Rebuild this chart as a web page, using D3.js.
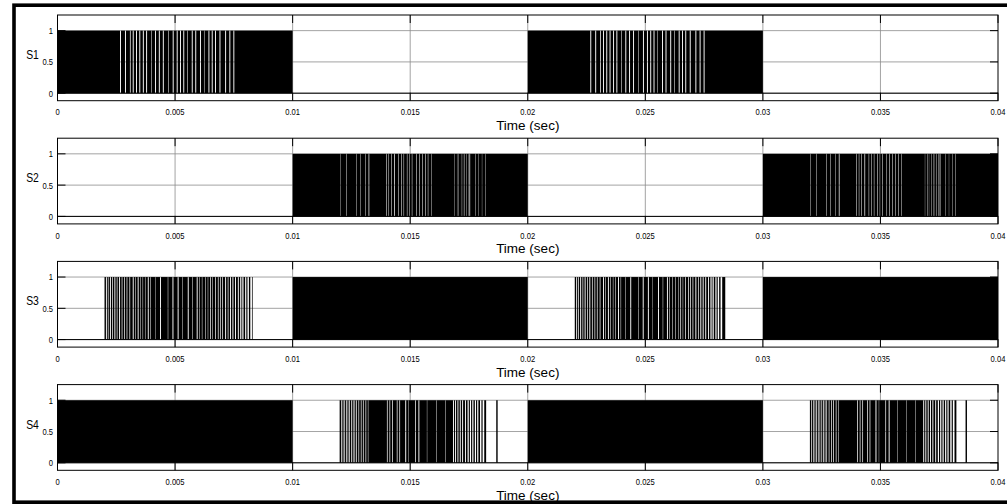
<!DOCTYPE html>
<html>
<head>
<meta charset="utf-8">
<script src="https://cdn.jsdelivr.net/npm/d3@7"></script>
<style>
  body { margin: 0; background: #fff; }
  text { font-family: "Liberation Sans", Arial, sans-serif; fill: #000; }
</style>
</head>
<body>
<div id="chart"></div>
<script>
// switching signals of a 4-switch inverter, 0..0.04 s

var xTicks = [0, 0.005, 0.01, 0.015, 0.02, 0.025, 0.03, 0.035, 0.04];
var xTickLabels = ["0", "0.005", "0.01", "0.015", "0.02", "0.025", "0.03", "0.035", "0.04"];
var yTicks = [0, 0.5, 1];
var yTickLabels = ["0", "0.5", "1"];
var names = ["S1", "S2", "S3", "S4"];

// intervals where the switch is held on (value 1)
var s1Solid = [];
var s2Solid = [];
var s3Solid = [[0.01, 0.02], [0.03, 0.04]];
var s4Solid = [[0, 0.01], [0.02, 0.03], [0.01866, 0.01872], [0.03862, 0.03868]];

// intervals that are switching (PWM); off-gaps listed below
var s1Pwm = [[0, 0.01], [0.02, 0.03]];
var s2Pwm = [[0.01, 0.02], [0.03, 0.04]];
var s3Pwm = [[0.002, 0.0083], [0.022, 0.0284]];
var s4Pwm = [[0.012, 0.01823], [0.032, 0.03823]];

// off gaps inside each PWM interval: [offset from interval start, duration] (s)
var s1Gaps = [[0.00266, 0.00004], [0.00287, 0.00004], [0.00308, 0.00003], [0.00320, 0.00004],
    [0.00334, 0.00004], [0.00348, 0.00004], [0.00363, 0.00004], [0.00377, 0.00004],
    [0.00398, 0.00002], [0.00415, 0.00004], [0.00431, 0.00004], [0.00448, 0.00004],
    [0.00471, 0.00002], [0.00490, 0.00004], [0.00507, 0.00004], [0.00521, 0.00004],
    [0.00535, 0.00004], [0.00552, 0.00002], [0.00571, 0.00004], [0.00586, 0.00004],
    [0.00606, 0.00004], [0.00623, 0.00002], [0.00642, 0.00004], [0.00656, 0.00004],
    [0.00670, 0.00004], [0.00689, 0.00004], [0.00713, 0.00004], [0.00731, 0.00004],
    [0.00748, 0.00004]];
var s2Gaps = [[0.00202, 0.000012], [0.00228, 0.000015], [0.00270, 0.000015], [0.00287, 0.000015],
    [0.00309, 0.000015], [0.00323, 0.00003], [0.00398, 0.00002], [0.00408, 0.00002],
    [0.00419, 0.00002], [0.00432, 0.00003], [0.00450, 0.00002], [0.00462, 0.00002],
    [0.00472, 0.00002], [0.00486, 0.00002], [0.00497, 0.00002], [0.00507, 0.00002],
    [0.00526, 0.00002], [0.00538, 0.00002], [0.00551, 0.00002], [0.00564, 0.00002],
    [0.00575, 0.00002], [0.00589, 0.000015], [0.00689, 0.000012], [0.00699, 0.000012],
    [0.00706, 0.000012], [0.00716, 0.000012], [0.00724, 0.000012], [0.00731, 0.000012],
    [0.00738, 0.000012], [0.00746, 0.000012], [0.00752, 0.00003], [0.00777, 0.000012],
    [0.00791, 0.000012], [0.00805, 0.000012], [0.00819, 0.000012]];
var s3Gaps = [[0.00006, 0.00004], [0.00014, 0.00003], [0.00023, 0.00004], [0.00033, 0.00003],
    [0.00042, 0.00004], [0.00052, 0.00003], [0.00062, 0.00004], [0.00073, 0.00003],
    [0.00084, 0.00003], [0.00094, 0.00003], [0.00106, 0.00003], [0.00120, 0.00004],
    [0.00130, 0.00002], [0.00141, 0.00004], [0.00151, 0.00002], [0.00162, 0.00002],
    [0.00172, 0.00002], [0.00184, 0.00004], [0.00195, 0.00002], [0.00215, 0.000015],
    [0.00236, 0.00004], [0.00269, 0.00002], [0.00289, 0.00004], [0.00311, 0.00004],
    [0.00331, 0.000015], [0.00354, 0.00004], [0.00374, 0.00002], [0.00392, 0.00004],
    [0.00402, 0.00002], [0.00414, 0.00002], [0.00428, 0.00002], [0.00439, 0.00002],
    [0.00449, 0.00003], [0.00459, 0.00002], [0.00470, 0.00003], [0.00482, 0.00003],
    [0.00491, 0.00003], [0.00501, 0.00003], [0.00513, 0.00004], [0.00524, 0.00003],
    [0.00534, 0.00004], [0.00544, 0.00004], [0.00555, 0.00004], [0.00567, 0.00004],
    [0.00577, 0.00005], [0.00586, 0.00005], [0.00598, 0.00005], [0.00608, 0.00006],
    [0.00620, 0.00007]];
var s4Gaps = [[0.00006, 0.00003], [0.00013, 0.00003], [0.00020, 0.00003], [0.00027, 0.00003],
    [0.00034, 0.00003], [0.00041, 0.00003], [0.00049, 0.00003], [0.00056, 0.00003],
    [0.00063, 0.00003], [0.00070, 0.00003], [0.00080, 0.00003], [0.00090, 0.00003],
    [0.00099, 0.00003], [0.00110, 0.00003], [0.00120, 0.00002], [0.00201, 0.00003],
    [0.00212, 0.00003], [0.00223, 0.00003], [0.00243, 0.00003], [0.00254, 0.00003],
    [0.00279, 0.00004], [0.00293, 0.000015], [0.00321, 0.00003], [0.00335, 0.00004],
    [0.00371, 0.000015], [0.00411, 0.000015], [0.00449, 0.000015], [0.00482, 0.00004],
    [0.00491, 0.00004], [0.00501, 0.00004], [0.00511, 0.00004], [0.00521, 0.00004],
    [0.00533, 0.00004], [0.00544, 0.00005], [0.00554, 0.00005], [0.00564, 0.00005],
    [0.00575, 0.00005], [0.00585, 0.00005], [0.00597, 0.00006], [0.00608, 0.00007]];

var signals = [
    { name: names[0], solid: s1Solid, pwm: s1Pwm, gaps: s1Gaps },
    { name: names[1], solid: s2Solid, pwm: s2Pwm, gaps: s2Gaps },
    { name: names[2], solid: s3Solid, pwm: s3Pwm, gaps: s3Gaps },
    { name: names[3], solid: s4Solid, pwm: s4Pwm, gaps: s4Gaps }
];

var width = 1007,
    height = 504;

var left = 57.5,
    right = 998,
    firstTop = 15,
    step = 123.2,
    plotH = 85.7,
    tickLen = 8,
    squeeze = 0.8; // the source fonts look horizontally squeezed

var svg = d3.select("#chart").append("svg")
    .attr("width", width)
    .attr("height", height);

// outer frame
svg.append("rect")
    .attr("x", 14)
    .attr("y", 5.2)
    .attr("width", 1000)
    .attr("height", 497)
    .attr("fill", "#fff")
    .attr("stroke", "#000")
    .attr("stroke-width", 3.6);

var x = d3.scaleLinear()
    .domain([0, 0.04])
    .range([left, right]);

// split a PWM interval into on-pieces using its gap list
function onPieces(block, gaps) {
    var pieces = [],
        cur = block[0];
    gaps.forEach(function(g) {
        var gs = block[0] + g[0],
            ge = gs + g[1];
        if (gs > cur) pieces.push([cur, gs]);
        cur = ge;
    });
    if (cur < block[1]) pieces.push([cur, block[1]]);
    return pieces;
}

function squeezedText(g, tx, ty, str, size, anchor) {
    g.append("text")
        .attr("transform", "translate(" + tx + "," + ty + ") scale(" + squeeze + ",1)")
        .attr("text-anchor", anchor)
        .style("font-size", size + "px")
        .text(str);
}

signals.forEach(function(sig, i) {
    var top = firstTop + i * step,
        bottom = top + plotH;

    var y = d3.scaleLinear()
        .domain([-0.12, 1.25])
        .range([bottom, top]);

    var g = svg.append("g");

    // grid
    g.selectAll(".vgrid")
        .data(xTicks.slice(1, -1))
        .enter()
        .append("line")
        .attr("x1", function(d) { return x(d); })
        .attr("x2", function(d) { return x(d); })
        .attr("y1", top)
        .attr("y2", bottom)
        .attr("stroke", "#8c8c8c")
        .attr("stroke-width", 0.8);
    g.selectAll(".hgrid")
        .data(yTicks)
        .enter()
        .append("line")
        .attr("x1", left)
        .attr("x2", right)
        .attr("y1", function(d) { return y(d); })
        .attr("y2", function(d) { return y(d); })
        .attr("stroke", "#8c8c8c")
        .attr("stroke-width", 0.8);

    // off level
    g.append("line")
        .attr("x1", x(0))
        .attr("x2", x(0.04))
        .attr("y1", y(0))
        .attr("y2", y(0))
        .attr("stroke", "#000")
        .attr("stroke-width", 1);

    var pieces = sig.solid.slice();
    sig.pwm.forEach(function(b) {
        pieces = pieces.concat(onPieces(b, sig.gaps));
    });

    g.selectAll(".pulse")
        .data(pieces)
        .enter()
        .append("rect")
        .attr("x", function(d) { return x(d[0]); })
        .attr("y", y(1))
        .attr("width", function(d) { return Math.max(x(d[1]) - x(d[0]), 0.4); })
        .attr("height", y(0) - y(1))
        .attr("fill", "#000");

    // axes box
    g.append("rect")
        .attr("x", left)
        .attr("y", top)
        .attr("width", right - left)
        .attr("height", plotH)
        .attr("fill", "none")
        .attr("stroke", "#000")
        .attr("stroke-width", 1);

    // inward ticks
    xTicks.forEach(function(t) {
        g.append("line")
            .attr("x1", x(t)).attr("x2", x(t))
            .attr("y1", top).attr("y2", top + tickLen)
            .attr("stroke", "#000");
        g.append("line")
            .attr("x1", x(t)).attr("x2", x(t))
            .attr("y1", bottom).attr("y2", bottom - tickLen)
            .attr("stroke", "#000");
    });
    yTicks.forEach(function(t) {
        g.append("line")
            .attr("x1", left).attr("x2", left + tickLen)
            .attr("y1", y(t)).attr("y2", y(t))
            .attr("stroke", "#000");
        g.append("line")
            .attr("x1", right).attr("x2", right - tickLen)
            .attr("y1", y(t)).attr("y2", y(t))
            .attr("stroke", "#000");
    });

    // tick labels
    xTicks.forEach(function(t, k) {
        squeezedText(g, x(t), bottom + 14.6, xTickLabels[k], 9.5, "middle");
    });
    yTicks.forEach(function(t, k) {
        squeezedText(g, left - 4.5, y(t) + 3.4, yTickLabels[k], 9.5, "end");
    });

    // labels
    squeezedText(g, 32.5, top + 44, sig.name, 13, "middle");
    g.append("text")
        .attr("x", (left + right) / 2)
        .attr("y", bottom + 29.5)
        .attr("text-anchor", "middle")
        .style("font-size", "13.5px")
        .text("Time (sec)");
});
</script>
</body>
</html>
